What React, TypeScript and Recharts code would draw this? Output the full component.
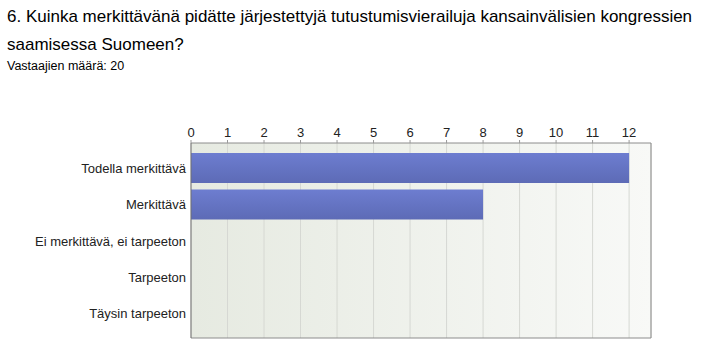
import { BarChart, Bar, XAxis, YAxis, CartesianGrid } from 'recharts'

const categories = ['Todella merkittävä', 'Merkittävä', 'Ei merkittävä, ei tarpeeton', 'Tarpeeton', 'Täysin tarpeeton']
const counts = [12, 8, 0, 0, 0]
const xTicks = [0, 1, 2, 3, 4, 5, 6, 7, 8, 9, 10, 11, 12]

const data = categories.map((name, i) => ({ name, value: counts[i] }))

const font = 'Arial, "Liberation Sans", sans-serif'
const frame = '#8c8c8c'

export default function App() {
  return (
    <div style={{ position: 'absolute', left: 0, top: 0, width: 724, height: 359, background: '#fff', fontFamily: font, color: '#000' }}>
      <div style={{ position: 'absolute', left: 7, top: 3, fontSize: 17, lineHeight: '28px', whiteSpace: 'nowrap' }}>
        6. Kuinka merkittävänä pidätte järjestettyjä tutustumisvierailuja kansainvälisien kongressien
        <br />
        saamisessa Suomeen?
      </div>
      <div style={{ position: 'absolute', left: 7, top: 59, fontSize: 12.5, whiteSpace: 'nowrap' }}>
        Vastaajien määrä: 20
      </div>
      <BarChart
        width={724}
        height={359}
        data={data}
        layout="vertical"
        margin={{ top: 113, right: 72, bottom: 20, left: 0 }}
        style={{ position: 'absolute', left: 0, top: 0 }}
      >
        <defs>
          <linearGradient id="bg" x1="0" y1="0" x2="1" y2="0">
            <stop offset="0%" stopColor="#e6eae1" />
            <stop offset="100%" stopColor="#f8f9f7" />
          </linearGradient>
          <linearGradient id="barFill" x1="0" y1="0" x2="0" y2="1">
            <stop offset="0%" stopColor="#6d7dd0" />
            <stop offset="100%" stopColor="#5d6bb6" />
          </linearGradient>
        </defs>
        <CartesianGrid horizontal={false} stroke="#d6d8d3" fill="url(#bg)" fillOpacity={1} />
        <XAxis
          type="number"
          orientation="top"
          domain={[0, 12.6]}
          ticks={xTicks}
          allowDataOverflow
          height={30}
          tickSize={3}
          tickMargin={3}
          tickLine={{ stroke: '#9a9a9a' }}
          axisLine={{ stroke: frame }}
          tick={{ fill: '#222', fontSize: 13, fontFamily: font }}
        />
        <XAxis
          xAxisId="b"
          type="number"
          orientation="bottom"
          domain={[0, 12.6]}
          height={1}
          tick={false}
          tickLine={false}
          axisLine={{ stroke: frame }}
        />
        <YAxis
          type="category"
          dataKey="name"
          width={191}
          padding={{ top: 7, bottom: 6 }}
          tickSize={0}
          tickMargin={5}
          tickLine={false}
          axisLine={{ stroke: '#707070' }}
          tick={{ fill: '#222', fontSize: 13, fontFamily: font }}
        />
        <YAxis
          yAxisId="r"
          type="category"
          dataKey="name"
          orientation="right"
          width={1}
          tick={false}
          tickLine={false}
          axisLine={{ stroke: frame }}
        />
        <Bar dataKey="value" fill="url(#barFill)" barSize={30} isAnimationActive={false} />
      </BarChart>
    </div>
  )
}
